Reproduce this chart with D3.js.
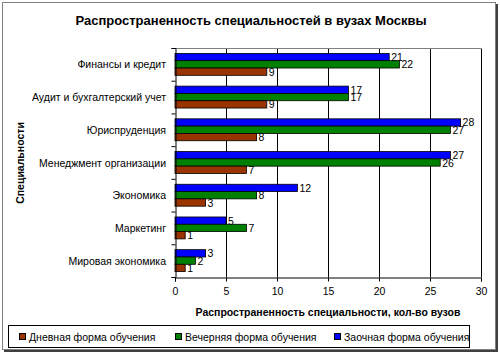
<!DOCTYPE html>
<html><head><meta charset="utf-8">
<script src="https://cdn.jsdelivr.net/npm/d3@7"></script>
<style>body{margin:0;background:#fff}svg{display:block;font-family:"Liberation Sans",Arial,sans-serif}</style>
</head><body><svg id="c" width="500" height="354"></svg>
<script>
const categories = ["Финансы и кредит","Аудит и бухгалтерский учет","Юриспруденция","Менеджмент организации","Экономика","Маркетинг","Мировая экономика"];
const dayValues = [9,9,8,7,3,1,1];
const eveningValues = [22,17,27,26,8,7,2];
const extramuralValues = [21,17,28,27,12,5,3];
const seriesNames = ["Заочная форма обучения","Вечерняя форма обучения","Дневная форма обучения"];
const seriesColors = ["#0000ff","#008000","#993300"];
const xTicks = [0,5,10,15,20,25,30];
const legendOrder = [2,1,0];

const series = [extramuralValues, eveningValues, dayValues];
const svg = d3.select("#c");
// outer frame
svg.append("rect").attr("x",2.5).attr("y",2.5).attr("width",493).attr("height",347).attr("fill","#fff").attr("stroke","#808080").attr("stroke-width",1);
svg.append("line").attr("x1",497).attr("x2",497).attr("y1",4).attr("y2",351).attr("stroke","#404040").attr("stroke-width",2);
svg.append("line").attr("x1",4).attr("x2",498).attr("y1",351).attr("y2",351).attr("stroke","#404040").attr("stroke-width",2);

const L=175,R=481,T=48,B=277;
const FS=10.5;
const x = d3.scaleLinear().domain([0,30]).range([L,R]);
const y = d3.scaleBand().domain(categories).range([T,B]).paddingInner(0.33).paddingOuter(0.165);
const sub = d3.scaleBand().domain(d3.range(3)).range([0,y.bandwidth()]);

// title
svg.append("text").attr("x",251).attr("y",25).attr("text-anchor","middle").attr("font-weight","bold").attr("font-size",13).text("Распространенность специальностей в вузах Москвы");

// grid
svg.append("g").selectAll("line").data(xTicks.slice(1)).join("line")
  .attr("x1",d=>x(d)+0.5).attr("x2",d=>x(d)+0.5).attr("y1",T).attr("y2",B).attr("stroke","#000").attr("stroke-width",1);
svg.append("line").attr("x1",L).attr("x2",R+1).attr("y1",T+0.5).attr("y2",T+0.5).attr("stroke","#808080");

// bars
series.forEach((vals,si)=>{
  const g = svg.append("g");
  g.selectAll("rect").data(vals).join("rect")
    .attr("x",x(0)).attr("y",(d,i)=>y(categories[i])+sub(si))
    .attr("width",d=>x(d)-x(0)).attr("height",sub.bandwidth())
    .attr("fill",seriesColors[si]).attr("stroke","#000").attr("stroke-width",0.8);
  g.selectAll("text").data(vals).join("text")
    .attr("x",d=>x(d)+2).attr("y",(d,i)=>y(categories[i])+sub(si)+sub.bandwidth()/2+4)
    .attr("font-size",FS).attr("fill","#000").text(d=>d);
});

// axes
const xa = svg.append("g").attr("transform",`translate(0,${B+0.5})`).call(d3.axisBottom(x).tickValues(xTicks).tickSize(4).tickPadding(6));
xa.select(".domain").attr("stroke","#000");
xa.selectAll("text").attr("font-size",FS).attr("font-family","Liberation Sans, Arial, sans-serif");
const yb = d3.scaleLinear().domain([0,7]).range([T,B]);
svg.append("g").attr("transform",`translate(${L+0.5},0)`).call(d3.axisLeft(yb).ticks(7).tickSize(4).tickFormat("")).select(".domain").attr("stroke","#000");
svg.append("g").selectAll("text").data(categories).join("text")
  .attr("x",166).attr("y",d=>y(d)+y.bandwidth()/2+4).attr("text-anchor","end").attr("font-size",FS).text(d=>d);

// axis titles
svg.append("text").attr("x",328).attr("y",316).attr("text-anchor","middle").attr("font-weight","bold").attr("font-size",FS).text("Распространенность специальности, кол-во вузов");
svg.append("text").attr("transform","translate(24,163) rotate(-90)").attr("text-anchor","middle").attr("font-weight","bold").attr("font-size",FS).text("Специальности");

// legend
svg.append("rect").attr("x",8.5).attr("y",325.5).attr("width",461).attr("height",22).attr("fill","#fff").attr("stroke","#000");
const lx=[19,175,334];
legendOrder.forEach((si,k)=>{
  svg.append("rect").attr("x",lx[k]+0.5).attr("y",333.5).attr("width",6).attr("height",6).attr("fill",seriesColors[si]).attr("stroke","#000");
  svg.append("text").attr("x",lx[k]+10).attr("y",341).attr("font-size",FS).text(seriesNames[si]);
});
</script></body></html>
